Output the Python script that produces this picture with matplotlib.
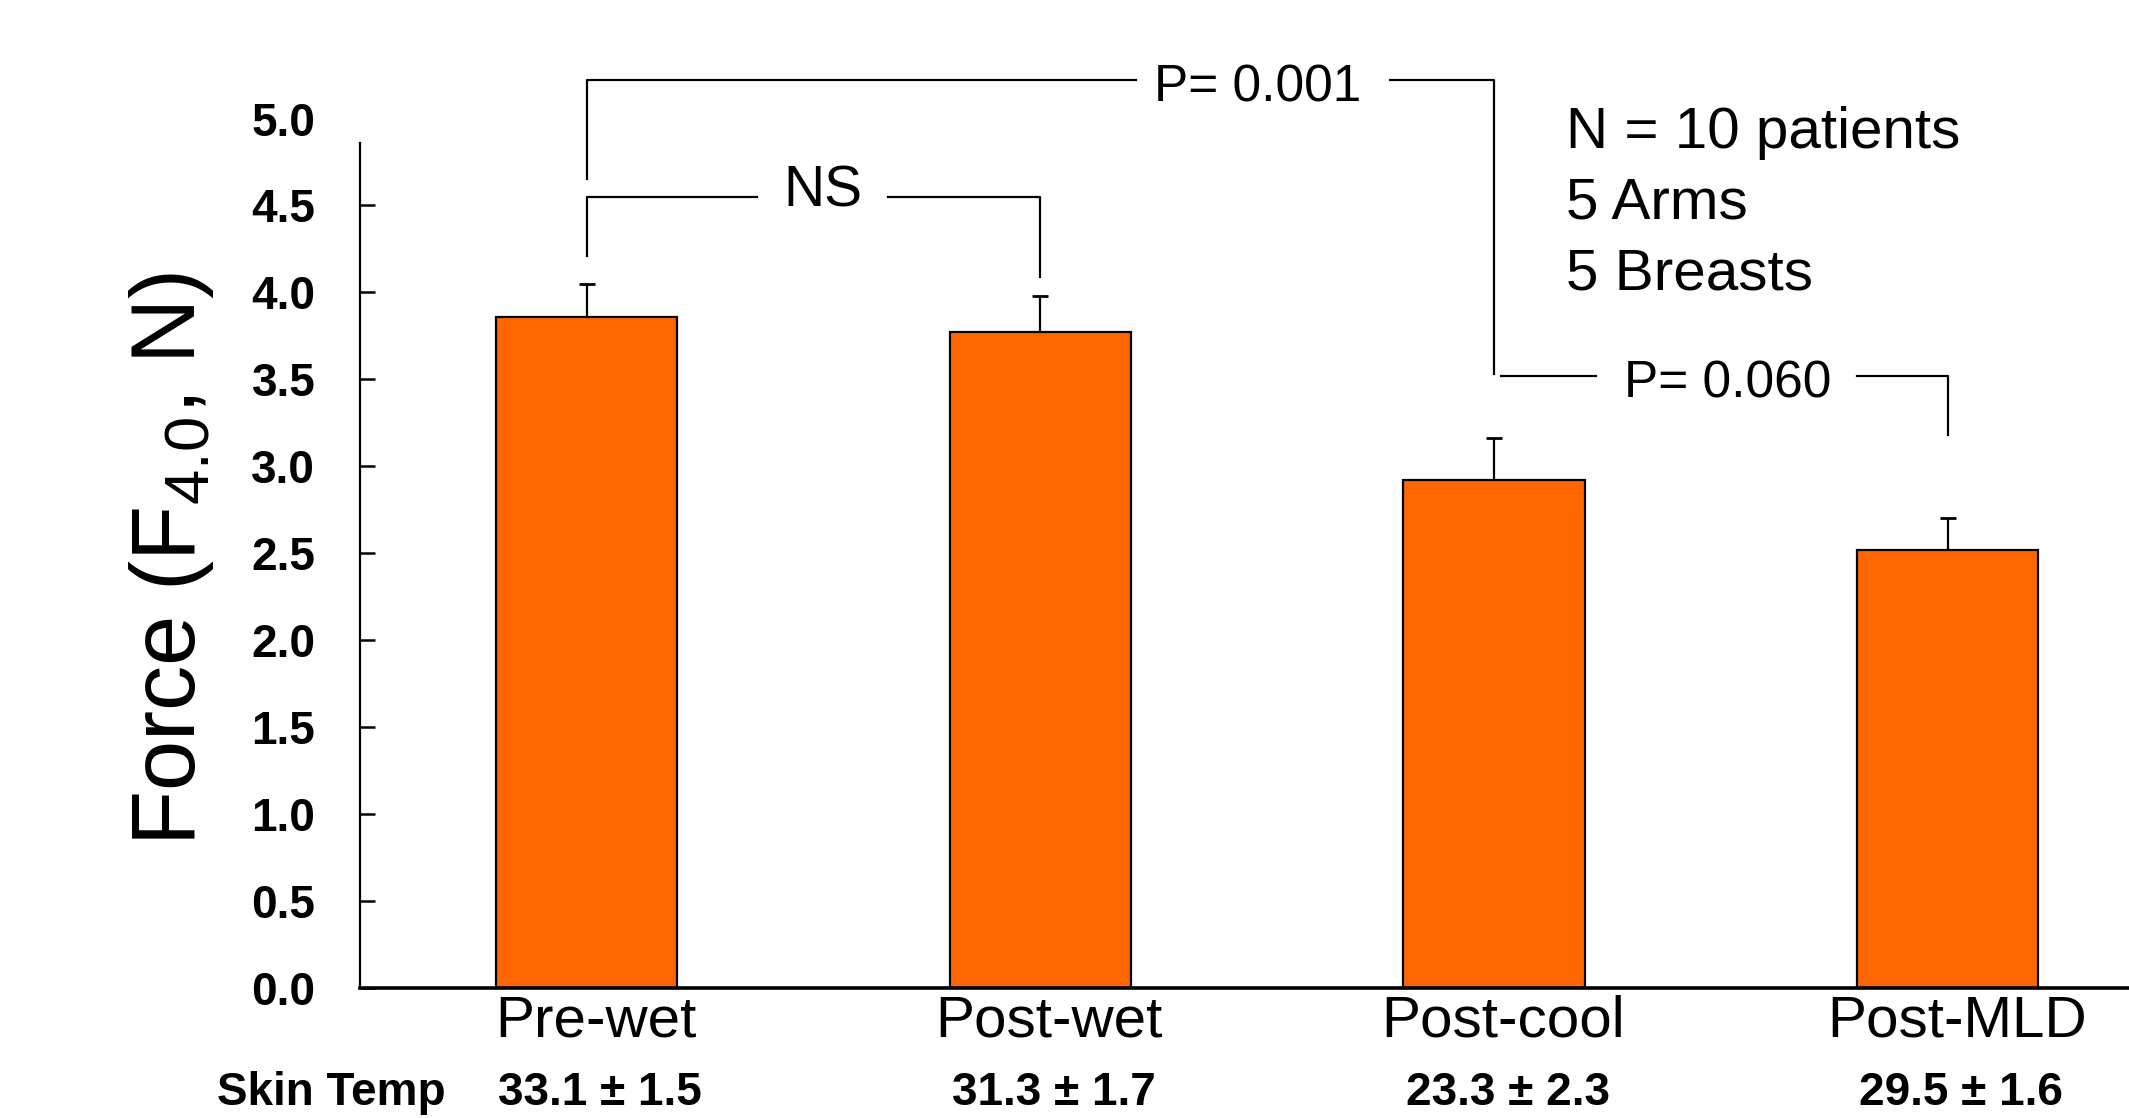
import numpy as np
import matplotlib
matplotlib.use("Agg")
import matplotlib.pyplot as plt
from matplotlib.transforms import blended_transform_factory

plt.rcParams['font.family'] = ['Liberation Sans', 'DejaVu Sans']
plt.rcParams['mathtext.fontset'] = 'custom'
plt.rcParams['mathtext.rm'] = 'Liberation Sans'
plt.rcParams['mathtext.it'] = 'Liberation Sans'

# ---- data ----
categories = ["Pre-wet", "Post-wet", "Post-cool", "Post-MLD"]
force = [3.86, 3.77, 2.92, 2.52]
force_err = [0.19, 0.21, 0.24, 0.18]
skin_temp = ["33.1 ± 1.5", "31.3 ± 1.7", "23.3 ± 2.3", "29.5 ± 1.6"]
yticks = [0.0, 0.5, 1.0, 1.5, 2.0, 2.5, 3.0, 3.5, 4.0, 4.5, 5.0]
notes = ["N = 10 patients", "5 Arms", "5 Breasts"]

fig = plt.figure(figsize=(21.29, 11.18), dpi=100)
ax = fig.add_axes([0.169, 0.1166, 0.831, 0.894 - 0.1166])

x = np.arange(len(categories))
ax.bar(x, force, width=0.4, color="#FF6600", edgecolor="black", linewidth=1.6, zorder=2)
top = np.array(force) + np.array(force_err)
ax.errorbar(x, force, yerr=[np.zeros(len(force)), force_err], fmt="none",
            ecolor="black", elinewidth=1.6, capsize=0, zorder=3)
ax.plot(x, top, ls="none", marker="_", ms=12, mew=2.0, color="black", zorder=3)

ax.set_xlim(-0.5, 3.4)
ax.set_ylim(0, 5.0)
for s in ["top", "right"]:
    ax.spines[s].set_visible(False)
ax.spines["left"].set_bounds(0, 4.86)
ax.spines["left"].set_linewidth(1.6)
ax.spines["bottom"].set_linewidth(2.6)

ax.set_yticks(yticks)
ax.set_yticklabels([f"{v:.1f}" for v in yticks], fontsize=33, fontweight="bold")
ax.tick_params(axis="y", direction="in", length=11, width=1.8, pad=32)
ax.yaxis.get_major_ticks()[-1].tick1line.set_visible(False)

ax.set_xticks(x + 0.02)
ax.set_xticklabels(categories, fontsize=42)
ax.tick_params(axis="x", length=0, pad=5)

fig.text(0.0805, 0.50, "Force (F$_{4.0}$, N)", rotation=90, ha="center", va="center", fontsize=65)

# skin temperature row
tr = blended_transform_factory(ax.transData, fig.transFigure)
fig.text(0.1556, 0.022, "Skin Temp", ha="center", va="center", fontsize=33, fontweight="bold")
for xi, t in zip(x, skin_temp):
    ax.text(xi + 0.03, 0.022, t, transform=tr, ha="center", va="center", fontsize=33, fontweight="bold")

# significance brackets
lw = 1.6
def seg(xs, ys):
    ax.plot(xs, ys, color="black", lw=lw, clip_on=False, zorder=4)

# P = 0.001 (Pre-wet vs Post-cool)
seg([0, 0, 1.21], [4.65, 5.22, 5.22])
seg([1.77, 2.0, 2.0], [5.22, 5.22, 3.53])
ax.text(1.48, 5.175, "P= 0.001", ha="center", va="center", fontsize=37, clip_on=False)
# NS (Pre-wet vs Post-wet)
seg([0, 0, 0.375], [4.21, 4.55, 4.55])
seg([0.665, 1.0, 1.0], [4.55, 4.55, 4.09])
ax.text(0.522, 4.58, "NS", ha="center", va="center", fontsize=41)
# P = 0.060 (Post-cool vs Post-MLD)
seg([2.015, 2.225], [3.52, 3.52])
seg([2.8, 3.0, 3.0], [3.52, 3.52, 3.18])
ax.text(2.515, 3.475, "P= 0.060", ha="center", va="center", fontsize=37)

# notes
for i, n in enumerate(notes):
    ax.text(2.16, 4.915 - i * 0.405, n, ha="left", va="center", fontsize=42)

fig.savefig("out.png", dpi=100)
